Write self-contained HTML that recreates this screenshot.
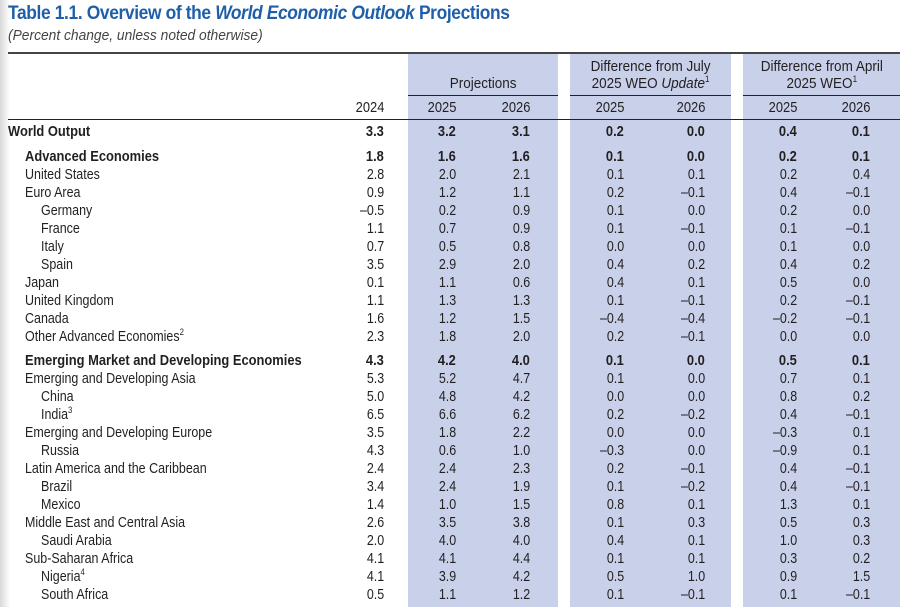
<!DOCTYPE html>
<html><head><meta charset="utf-8">
<style>
body{margin:0;width:900px;height:607px;background:#fff;position:relative;overflow:hidden;font-family:"Liberation Sans",sans-serif;color:#231f20}
.a{position:absolute}
.sh{position:absolute;background:#c9d1ea;top:54px;height:553px}
.r{position:absolute;left:0;width:900px;height:18px;line-height:18px;font-size:14.5px}
.r span{position:absolute;top:0;white-space:nowrap;transform:scaleX(.86);transform-origin:right center}
.r span.l{transform-origin:left center}
.b{font-weight:bold}
.v1{right:516px}.v2{right:444px}.v3{right:370px}.v4{right:276px}.v5{right:195px}.v6{right:103px}.v7{right:30px}
sup{font-size:9px;line-height:0;vertical-align:6px}
.h{display:inline-block;transform:scaleX(.9);transform-origin:center}
</style></head><body>
<div class="a" style="left:0;top:0;width:10px;height:607px;background:linear-gradient(to right,#d8d8d8,#fff)"></div>
<div class="a" style="left:8px;top:3px;font-weight:bold;font-size:19px;color:#1f5fa9;letter-spacing:-0.4px;white-space:nowrap;transform:scaleX(.915);transform-origin:left center">Table 1.1. Overview of the <i>World Economic Outlook</i> Projections</div>
<div class="a" style="left:8px;top:27px;font-size:15px;font-style:italic;color:#444;white-space:nowrap;transform:scaleX(.92);transform-origin:left center">(Percent change, unless noted otherwise)</div>
<div class="sh" style="left:408px;width:150px"></div>
<div class="sh" style="left:570px;width:161px"></div>
<div class="sh" style="left:743px;width:157px"></div>
<div class="a" style="left:8px;top:52px;width:892px;height:2px;background:#444"></div>
<div class="a" style="left:408px;top:95px;width:150px;height:1px;background:#222"></div>
<div class="a" style="left:570px;top:95px;width:161px;height:1px;background:#222"></div>
<div class="a" style="left:743px;top:95px;width:157px;height:1px;background:#222"></div>
<div class="a" style="left:8px;top:119px;width:892px;height:1px;background:#222"></div>
<div class="a" style="left:408px;top:75px;width:150px;text-align:center;font-size:15px"><span class="h">Projections</span></div>
<div class="a" style="left:560px;top:58px;width:181px;text-align:center;font-size:15px;line-height:17px"><span class="h">Difference from July<br>2025 WEO <i>Update</i><sup>1</sup></span></div>
<div class="a" style="left:733px;top:58px;width:177px;text-align:center;font-size:15px;line-height:17px"><span class="h">Difference from April<br>2025 WEO<sup>1</sup></span></div>
<div class="r" style="top:99px;font-size:15px"><span class="v1">2024</span><span class="v2">2025</span><span class="v3">2026</span><span class="v4">2025</span><span class="v5">2026</span><span class="v6">2025</span><span class="v7">2026</span></div>

<div class="r b" style="top:123px;font-size:15px"><span class="l" style="left:8px">World Output</span><span class="v1">3.3</span><span class="v2">3.2</span><span class="v3">3.1</span><span class="v4">0.2</span><span class="v5">0.0</span><span class="v6">0.4</span><span class="v7">0.1</span></div>
<div class="r b" style="top:148px;font-size:15px"><span class="l" style="left:25px">Advanced Economies</span><span class="v1">1.8</span><span class="v2">1.6</span><span class="v3">1.6</span><span class="v4">0.1</span><span class="v5">0.0</span><span class="v6">0.2</span><span class="v7">0.1</span></div>
<div class="r" style="top:166px"><span class="l" style="left:25px">United States</span><span class="v1">2.8</span><span class="v2">2.0</span><span class="v3">2.1</span><span class="v4">0.1</span><span class="v5">0.1</span><span class="v6">0.2</span><span class="v7">0.4</span></div>
<div class="r" style="top:184px"><span class="l" style="left:25px">Euro Area</span><span class="v1">0.9</span><span class="v2">1.2</span><span class="v3">1.1</span><span class="v4">0.2</span><span class="v5">–0.1</span><span class="v6">0.4</span><span class="v7">–0.1</span></div>
<div class="r" style="top:202px"><span class="l" style="left:41px">Germany</span><span class="v1">–0.5</span><span class="v2">0.2</span><span class="v3">0.9</span><span class="v4">0.1</span><span class="v5">0.0</span><span class="v6">0.2</span><span class="v7">0.0</span></div>
<div class="r" style="top:220px"><span class="l" style="left:41px">France</span><span class="v1">1.1</span><span class="v2">0.7</span><span class="v3">0.9</span><span class="v4">0.1</span><span class="v5">–0.1</span><span class="v6">0.1</span><span class="v7">–0.1</span></div>
<div class="r" style="top:238px"><span class="l" style="left:41px">Italy</span><span class="v1">0.7</span><span class="v2">0.5</span><span class="v3">0.8</span><span class="v4">0.0</span><span class="v5">0.0</span><span class="v6">0.1</span><span class="v7">0.0</span></div>
<div class="r" style="top:256px"><span class="l" style="left:41px">Spain</span><span class="v1">3.5</span><span class="v2">2.9</span><span class="v3">2.0</span><span class="v4">0.4</span><span class="v5">0.2</span><span class="v6">0.4</span><span class="v7">0.2</span></div>
<div class="r" style="top:274px"><span class="l" style="left:25px">Japan</span><span class="v1">0.1</span><span class="v2">1.1</span><span class="v3">0.6</span><span class="v4">0.4</span><span class="v5">0.1</span><span class="v6">0.5</span><span class="v7">0.0</span></div>
<div class="r" style="top:292px"><span class="l" style="left:25px">United Kingdom</span><span class="v1">1.1</span><span class="v2">1.3</span><span class="v3">1.3</span><span class="v4">0.1</span><span class="v5">–0.1</span><span class="v6">0.2</span><span class="v7">–0.1</span></div>
<div class="r" style="top:310px"><span class="l" style="left:25px">Canada</span><span class="v1">1.6</span><span class="v2">1.2</span><span class="v3">1.5</span><span class="v4">–0.4</span><span class="v5">–0.4</span><span class="v6">–0.2</span><span class="v7">–0.1</span></div>
<div class="r" style="top:328px"><span class="l" style="left:25px">Other Advanced Economies<sup>2</sup></span><span class="v1">2.3</span><span class="v2">1.8</span><span class="v3">2.0</span><span class="v4">0.2</span><span class="v5">–0.1</span><span class="v6">0.0</span><span class="v7">0.0</span></div>
<div class="r b" style="top:352px;font-size:15px"><span class="l" style="left:25px">Emerging Market and Developing Economies</span><span class="v1">4.3</span><span class="v2">4.2</span><span class="v3">4.0</span><span class="v4">0.1</span><span class="v5">0.0</span><span class="v6">0.5</span><span class="v7">0.1</span></div>
<div class="r" style="top:370px"><span class="l" style="left:25px">Emerging and Developing Asia</span><span class="v1">5.3</span><span class="v2">5.2</span><span class="v3">4.7</span><span class="v4">0.1</span><span class="v5">0.0</span><span class="v6">0.7</span><span class="v7">0.1</span></div>
<div class="r" style="top:388px"><span class="l" style="left:41px">China</span><span class="v1">5.0</span><span class="v2">4.8</span><span class="v3">4.2</span><span class="v4">0.0</span><span class="v5">0.0</span><span class="v6">0.8</span><span class="v7">0.2</span></div>
<div class="r" style="top:406px"><span class="l" style="left:41px">India<sup>3</sup></span><span class="v1">6.5</span><span class="v2">6.6</span><span class="v3">6.2</span><span class="v4">0.2</span><span class="v5">–0.2</span><span class="v6">0.4</span><span class="v7">–0.1</span></div>
<div class="r" style="top:424px"><span class="l" style="left:25px">Emerging and Developing Europe</span><span class="v1">3.5</span><span class="v2">1.8</span><span class="v3">2.2</span><span class="v4">0.0</span><span class="v5">0.0</span><span class="v6">–0.3</span><span class="v7">0.1</span></div>
<div class="r" style="top:442px"><span class="l" style="left:41px">Russia</span><span class="v1">4.3</span><span class="v2">0.6</span><span class="v3">1.0</span><span class="v4">–0.3</span><span class="v5">0.0</span><span class="v6">–0.9</span><span class="v7">0.1</span></div>
<div class="r" style="top:460px"><span class="l" style="left:25px">Latin America and the Caribbean</span><span class="v1">2.4</span><span class="v2">2.4</span><span class="v3">2.3</span><span class="v4">0.2</span><span class="v5">–0.1</span><span class="v6">0.4</span><span class="v7">–0.1</span></div>
<div class="r" style="top:478px"><span class="l" style="left:41px">Brazil</span><span class="v1">3.4</span><span class="v2">2.4</span><span class="v3">1.9</span><span class="v4">0.1</span><span class="v5">–0.2</span><span class="v6">0.4</span><span class="v7">–0.1</span></div>
<div class="r" style="top:496px"><span class="l" style="left:41px">Mexico</span><span class="v1">1.4</span><span class="v2">1.0</span><span class="v3">1.5</span><span class="v4">0.8</span><span class="v5">0.1</span><span class="v6">1.3</span><span class="v7">0.1</span></div>
<div class="r" style="top:514px"><span class="l" style="left:25px">Middle East and Central Asia</span><span class="v1">2.6</span><span class="v2">3.5</span><span class="v3">3.8</span><span class="v4">0.1</span><span class="v5">0.3</span><span class="v6">0.5</span><span class="v7">0.3</span></div>
<div class="r" style="top:532px"><span class="l" style="left:41px">Saudi Arabia</span><span class="v1">2.0</span><span class="v2">4.0</span><span class="v3">4.0</span><span class="v4">0.4</span><span class="v5">0.1</span><span class="v6">1.0</span><span class="v7">0.3</span></div>
<div class="r" style="top:550px"><span class="l" style="left:25px">Sub-Saharan Africa</span><span class="v1">4.1</span><span class="v2">4.1</span><span class="v3">4.4</span><span class="v4">0.1</span><span class="v5">0.1</span><span class="v6">0.3</span><span class="v7">0.2</span></div>
<div class="r" style="top:568px"><span class="l" style="left:41px">Nigeria<sup>4</sup></span><span class="v1">4.1</span><span class="v2">3.9</span><span class="v3">4.2</span><span class="v4">0.5</span><span class="v5">1.0</span><span class="v6">0.9</span><span class="v7">1.5</span></div>
<div class="r" style="top:586px"><span class="l" style="left:41px">South Africa</span><span class="v1">0.5</span><span class="v2">1.1</span><span class="v3">1.2</span><span class="v4">0.1</span><span class="v5">–0.1</span><span class="v6">0.1</span><span class="v7">–0.1</span></div>
</body></html>
